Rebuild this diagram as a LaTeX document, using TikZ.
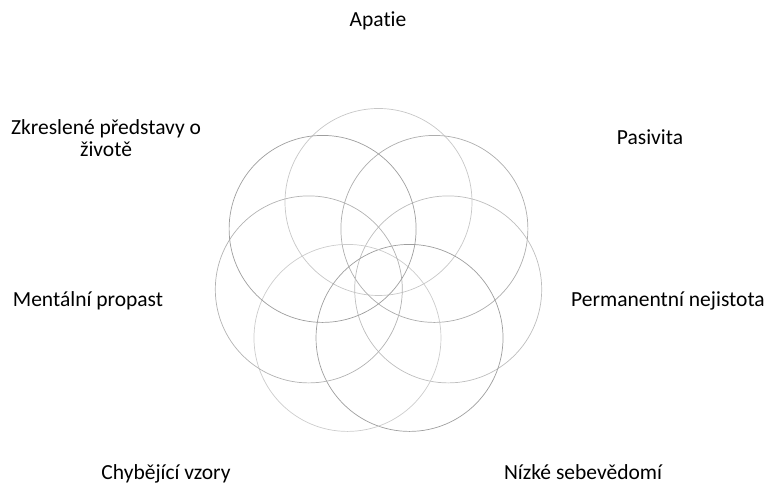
\documentclass[tikz,border=0pt]{standalone}
\usepackage{fontspec}
\setmainfont[Ligatures=NoCommon]{Carlito}
\begin{document}
\begin{tikzpicture}[x=1pt, y=1pt, font=\fontsize{21.5}{22}\selectfont, line join=round, line cap=round,
	ring/.style={line width=0.7pt}, label/.style={inner sep=0pt, align=center}]
	\useasboundingbox (0,0) rectangle (766,486);
	\coordinate (centre) at (378.5,212.5);
	\foreach \k/\shade in {0/22,1/32,2/26,3/38,4/20,5/30,6/38}
		\draw[ring, black!\shade] (centre)++(90-\k*360/7:71.5) circle (93.5);
	\node[label] (apatie) at (378,465) {Apatie};
	\node[label] (pasivita) at (650,349) {Pasivita};
	\node[label] (nejistota) at (668,185) {Permanentní nejistota};
	\node[label, anchor=base] (sebevedomi) at (583,6) {Nízké sebevědomí};
	\node[label, anchor=base] (vzory) at (166,6) {Chybějící vzory};
	\node[label] (propast) at (88,185) {Mentální propast};
	\node[label] (predstavy) at (106,348) {Zkreslené představy o\\životě};
\end{tikzpicture}
\end{document}
